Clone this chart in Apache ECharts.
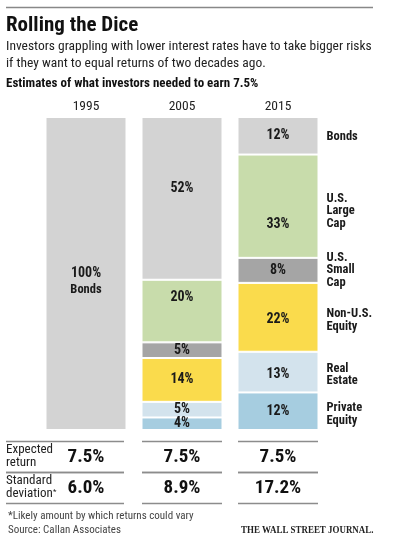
<!DOCTYPE html>
<html><head><meta charset="utf-8">
<script src="https://cdn.jsdelivr.net/npm/echarts@6/dist/echarts.min.js"></script>
<style>html,body{margin:0;padding:0;background:#fff}#c{width:417px;height:559px}</style>
</head><body><div id="c"></div>
<script>
// ---- data ----
const years = ['1995', '2005', '2015'];
// stacked bottom-to-top
const assetClasses = ['Private Equity', 'Real Estate', 'Non-U.S. Equity', 'U.S. Small Cap', 'U.S. Large Cap', 'Bonds'];
const sideLabels = ['Private\nEquity', 'Real\nEstate', 'Non-U.S.\nEquity', 'U.S.\nSmall\nCap', 'U.S.\nLarge\nCap', 'Bonds'];
const privateEquity = [0, 4, 12];
const realEstate = [0, 5, 13];
const nonUSEquity = [0, 14, 22];
const usSmallCap = [0, 5, 8];
const usLargeCap = [0, 20, 33];
const bonds = [100, 52, 12];
const tableRows = ['Expected\nreturn', 'Standard\ndeviation'];
const expectedReturn = ['7.5%', '7.5%', '7.5%'];
const stdDeviation = ['6.0%', '8.9%', '17.2%'];

// ---- styles ----
const FONT = "'Liberation Sans Narrow','Roboto Condensed','DejaVu Sans Condensed',Roboto,sans-serif";
const colors = ['#a6cde0', '#d3e3ed', '#fadb4c', '#a5a5a5', '#c8dcab', '#d3d3d3'];
const labelOffsets = { '5-0': [0, 8], '5-1': [0, -10], '4-1': [0, -14], '4-2': [0, 18], '2-2': [0, 2], '1-2': [0, 2] };
const sideOffsets = [3, 3, 3, 0, 5, 1];
const seriesValues = [privateEquity, realEstate, nonUSEquity, usSmallCap, usLargeCap, bonds];

const series = [];
seriesValues.forEach((vals, i) => {
  series.push({
    name: assetClasses[i], type: 'bar', stack: 'mix', xAxisIndex: 0, yAxisIndex: 0,
    barWidth: 81, barGap: '-100%',
    itemStyle: { color: colors[i], borderColor: '#fff', borderWidth: 1 },
    label: {
      show: true, position: 'inside', color: '#1a1a1a', fontFamily: FONT, fontSize: 14, fontWeight: 'bold',
      formatter: p => (i === 5 && p.dataIndex === 0) ? p.value + '%\n{b|Bonds}' : p.value + '%',
      lineHeight: 17,
      rich: { b: { fontFamily: FONT, fontSize: 12.5, fontWeight: 'bold', color: '#1a1a1a', lineHeight: 17 } }
    },
    emphasis: { disabled: true },
    data: vals.map((v, j) => v ? { value: v, label: { offset: labelOffsets[i + '-' + j] || [0, 0] } } : null)
  });
});
// side labels overlaying the 2015 column
seriesValues.forEach((vals, i) => {
  series.push({
    name: assetClasses[i] + ' label', type: 'bar', stack: 'side', xAxisIndex: 0, yAxisIndex: 0,
    barWidth: 81, barGap: '-100%', silent: true,
    itemStyle: { color: 'rgba(0,0,0,0)' },
    label: {
      show: true, position: 'right', distance: 8, align: 'left', color: '#1a1a1a',
      fontFamily: FONT, fontSize: 12.5, fontWeight: 'bold', lineHeight: 12.5,
      offset: [0, sideOffsets[i]],
      formatter: () => sideLabels[i]
    },
    emphasis: { disabled: true },
    data: vals.map((v, j) => j === 2 ? v : null)
  });
});

const tableData = [];
years.forEach((y, c) => { tableData.push([c, 0]); tableData.push([c, 1]); });
const TABLE_LEFT = 6;
series.push({
  type: 'custom', xAxisIndex: 1, yAxisIndex: 1, silent: true,
  data: tableData,
  renderItem(params, api) {
    const col = api.value(0), row = api.value(1);
    const c = api.coord([col, row]);
    const sz = api.size([1, 1]);
    const h = sz[1];
    const x0 = col === 0 ? TABLE_LEFT : c[0] - 40;
    const x1 = col === 0 ? c[0] + 38 : c[0] + 40;
    const yT = Math.round(c[1] - h / 2) + 0.5, yB = Math.round(c[1] + h / 2) + 0.5;
    const txt = (row === 0 ? expectedReturn : stdDeviation)[col];
    const ls = { stroke: '#8c8c8c', lineWidth: 1.5 };
    return {
      type: 'group', children: [
        { type: 'line', shape: { x1: x0, y1: yT, x2: x1, y2: yT }, style: ls },
        { type: 'line', shape: { x1: x0, y1: yB, x2: x1, y2: yB }, style: ls },
        { type: 'text', x: c[0], y: c[1] + 1, style: { text: txt, fontFamily: FONT, fontSize: 19, fontWeight: 'bold', fill: '#111', align: 'center', verticalAlign: 'middle' } }
      ]
    };
  }
});

const chart = echarts.init(document.getElementById('c'), null, { renderer: 'canvas' });
chart.setOption({
  animation: false,
  backgroundColor: '#fff',
  grid: [
    { left: 38, width: 288, top: 117, bottom: 129 },
    { left: 38, width: 288, top: 441, bottom: 56 }
  ],
  xAxis: [
    { type: 'category', gridIndex: 0, position: 'top', data: years,
      axisLine: { show: false }, axisTick: { show: false },
      axisLabel: { margin: 3, color: '#222', fontFamily: FONT, fontSize: 13.5 } },
    { type: 'category', gridIndex: 1, data: years, show: false }
  ],
  yAxis: [
    { type: 'value', gridIndex: 0, min: 0, max: 100, show: false },
    { type: 'category', gridIndex: 1, data: tableRows, inverse: true,
      axisLine: { show: false }, axisTick: { show: false }, splitLine: { show: false },
      axisLabel: { align: 'left', margin: 32, color: '#222', fontFamily: FONT, fontSize: 13, lineHeight: 13,
        formatter: (v, idx) => idx === 1 ? v + '{s|*}' : v,
        rich: { s: { fontSize: 8, verticalAlign: 'top', fontFamily: FONT, color: '#222' } } } }
  ],
  graphic: [
    { type: 'line', shape: { x1: 6, y1: 7.5, x2: 373, y2: 7.5 }, style: { stroke: '#888', lineWidth: 1.5 } },
    { type: 'text', left: 6, top: 15, style: { text: 'Rolling the Dice', fontFamily: FONT, fontSize: 21, fontWeight: 'bold', fill: '#111' } },
    { type: 'text', left: 6, top: 40, style: { text: 'Investors grappling with lower interest rates have to take bigger risks', fontFamily: FONT, fontSize: 13.5, fill: '#222' } },
    { type: 'text', left: 6, top: 57, style: { text: 'if they want to equal returns of two decades ago.', fontFamily: FONT, fontSize: 13.5, fill: '#222' } },
    { type: 'text', left: 6, top: 77, style: { text: 'Estimates of what investors needed to earn 7.5%', fontFamily: FONT, fontSize: 13, fontWeight: 'bold', fill: '#111' } },
    { type: 'text', left: 8, top: 511, style: { text: '*Likely amount by which returns could vary', fontFamily: FONT, fontSize: 11, fill: '#444' } },
    { type: 'text', left: 8, top: 525, style: { text: 'Source: Callan Associates', fontFamily: FONT, fontSize: 11, fill: '#444' } },
    { type: 'text', x: 241, y: 530, scaleX: 0.85, originX: 0, style: { text: 'THE WALL STREET JOURNAL.', fontFamily: "'Liberation Serif','DejaVu Serif',serif", fontSize: 10.5, fontWeight: 'bold', fill: '#222', verticalAlign: 'middle' } }
  ],
  series: series
});
</script>
</body></html>
